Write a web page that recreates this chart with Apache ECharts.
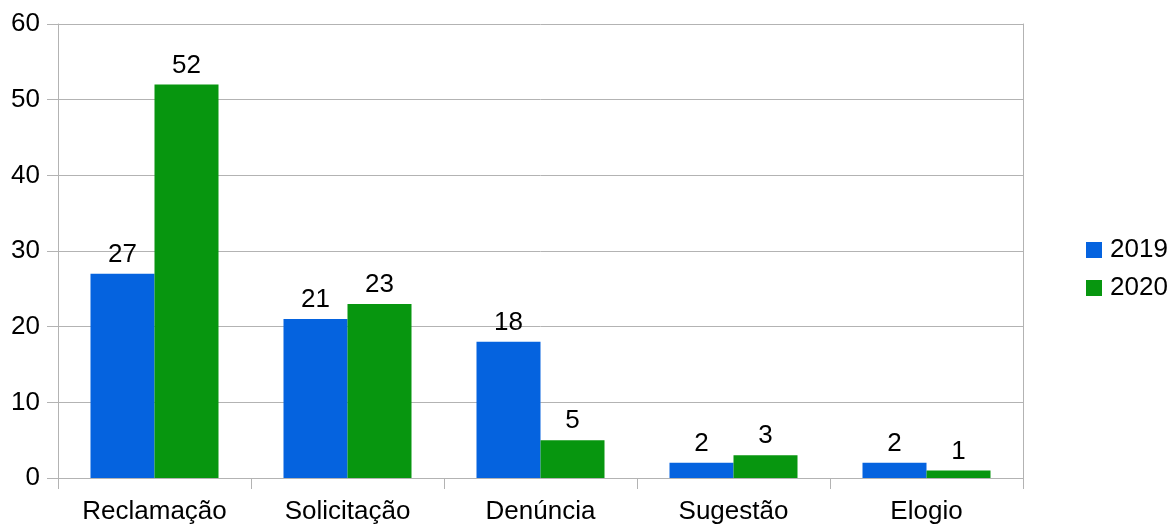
<!DOCTYPE html>
<html>
<head>
<meta charset="utf-8">
<script src="https://cdn.jsdelivr.net/npm/echarts@6/dist/echarts.min.js"></script>
<style>
  html, body { margin: 0; padding: 0; background: #fff; }
  #chart { width: 1169px; height: 525px; }
</style>
</head>
<body>
<div id="chart"></div>
<script>
// Manifestações por tipo, 2019 x 2020
const categories = ['Reclamação', 'Solicitação', 'Denúncia', 'Sugestão', 'Elogio'];
const values2019 = [27, 21, 18, 2, 2];
const values2020 = [52, 23, 5, 3, 1];
const seriesNames = ['2019', '2020'];
const yTicks = { min: 0, max: 60, interval: 10 };

const font = 'Liberation Sans, Arial, sans-serif';
const gridColor = '#b3b3b3';
const fontSize = 26;

const chart = echarts.init(document.getElementById('chart'), null, { renderer: 'canvas' });

const label = {
  show: true,
  position: 'top',
  distance: 6,
  color: '#000',
  fontFamily: font,
  fontSize: fontSize
};

chart.setOption({
  animation: false,
  textStyle: { fontFamily: font },
  grid: { left: 58, right: 146, top: 24, bottom: 47, containLabel: false },
  legend: {
    orient: 'vertical',
    left: 1086,
    top: 237,
    padding: 0,
    itemWidth: 16,
    itemHeight: 16,
    itemGap: 12,
    icon: 'rect',
    textStyle: { fontSize: fontSize, color: '#000', fontFamily: font, padding: [0, 0, 0, 3] },
    data: seriesNames
  },
  xAxis: {
    type: 'category',
    data: categories,
    axisLine: { show: true, lineStyle: { color: gridColor, width: 1 } },
    axisTick: { show: true, length: 11, lineStyle: { color: gridColor } },
    axisLabel: { color: '#000', fontSize: fontSize, fontFamily: font, margin: 21 },
    splitLine: { show: false }
  },
  yAxis: [
    {
      type: 'value',
      min: yTicks.min,
      max: yTicks.max,
      interval: yTicks.interval,
      axisLine: { show: true, lineStyle: { color: gridColor, width: 1 } },
      axisTick: { show: true, length: 11, lineStyle: { color: gridColor } },
      axisLabel: { color: '#000', fontSize: fontSize, fontFamily: font, margin: 18 },
      splitLine: { show: true, lineStyle: { color: gridColor, width: 1 } }
    },
    {
      type: 'value',
      position: 'right',
      min: yTicks.min,
      max: yTicks.max,
      interval: yTicks.interval,
      axisLine: { show: true, lineStyle: { color: gridColor, width: 1 } },
      axisTick: { show: false },
      axisLabel: { show: false },
      splitLine: { show: false }
    }
  ],
  series: [
    {
      name: seriesNames[0],
      type: 'bar',
      data: values2019,
      barWidth: 64,
      barGap: '0%',
      itemStyle: { color: '#0563df' },
      label: label
    },
    {
      name: seriesNames[1],
      type: 'bar',
      data: values2020,
      barWidth: 64,
      barGap: '0%',
      itemStyle: { color: '#07960f' },
      label: label
    }
  ]
});
</script>
</body>
</html>
